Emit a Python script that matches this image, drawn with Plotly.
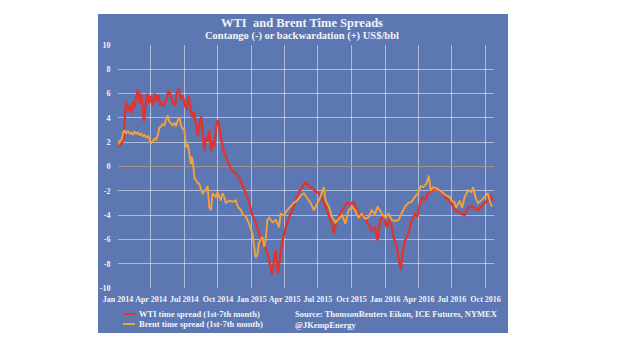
import pandas as pd
import plotly.graph_objects as go

# ---- data; day offsets are days since 2014-01-01 ----
wti_day = [0, 5, 10, 15, 19, 22, 27, 32, 36, 41, 45, 50, 55, 59, 63, 68, 71, 75, 80, 85,
           90, 95, 100, 105, 110, 116, 122, 127, 133, 139, 144, 150, 156, 160, 166, 172, 177, 183, 188, 193,
           198, 203, 208, 213, 218, 222, 227, 236, 240, 245, 249, 254, 258, 263, 268, 272, 276, 281, 285, 290,
           295, 304, 313, 322, 331, 340, 349, 358, 367, 376, 385, 394, 403, 412, 421, 430, 437, 444, 448, 458,
           467, 476, 485, 494, 503, 512, 521, 530, 539, 548, 557, 567, 576, 585, 589, 598, 607, 616, 625, 634,
           643, 652, 662, 671, 680, 689, 693, 702, 709, 716, 725, 734, 741, 748, 752, 761, 768, 772, 777, 784,
           793, 802, 811, 818, 825, 831, 838, 847, 856, 865, 874, 884, 893, 902, 911, 920, 929, 938, 947, 956,
           965, 974, 983, 992, 1001, 1010, 1015, 1019, 1022]
wti_val = [2.0, 1.7, 1.9, 2.2, 4.2, 5.4, 4.6, 5.0, 4.4, 5.3, 4.8, 5.8, 6.3, 5.2, 6.0, 4.8, 3.7, 5.0, 6.0, 5.2,
           5.8, 5.0, 6.0, 5.4, 5.9, 5.0, 5.2, 5.0, 5.6, 6.3, 5.8, 5.3, 5.0, 6.0, 6.4, 5.5, 5.8, 5.0, 4.7, 5.8,
           4.8, 4.0, 4.5, 3.5, 2.5, 3.5, 4.1, 1.3, 2.4, 2.1, 3.0, 1.3, 2.1, 1.6, 3.2, 3.8, 3.4, 2.4, 1.9, 1.1,
           0.8, 0.1, -0.4, -0.6, -0.9, -1.5, -2.2, -2.9, -4.0, -4.6, -5.5, -6.4, -6.6, -7.6, -8.9, -6.9, -8.8, -7.2, -6.3, -5.0,
           -4.2, -3.6, -2.8, -2.1, -1.7, -1.3, -1.6, -1.8, -1.96, -2.2, -2.6, -3.3, -4.1, -4.7, -5.5, -4.4, -3.9, -3.4, -3.0, -3.1,
           -2.9, -3.6, -4.1, -4.0, -4.6, -5.0, -5.3, -5.0, -6.1, -4.4, -4.1, -5.0, -4.4, -5.0, -5.8, -6.6, -8.0, -8.5, -7.2, -6.1,
           -5.5, -4.4, -3.9, -4.1, -3.0, -2.5, -2.8, -2.2, -2.0, -1.86, -1.9, -2.1, -2.5, -2.8, -3.0, -3.6, -3.7, -3.9, -4.0, -3.4,
           -3.3, -3.4, -3.6, -3.3, -3.0, -2.8, -2.5, -2.4, -2.8]

brent_day = [0, 5, 10, 14, 18, 22, 27, 32, 36, 41, 45, 50, 54, 59, 63, 68, 72, 77, 81, 86,
             90, 95, 100, 104, 109, 113, 118, 122, 127, 131, 136, 140, 145, 149, 154, 158, 163, 168, 172, 177,
             181, 186, 191, 195, 199, 201, 205, 209, 213, 218, 222, 227, 231, 240, 245, 249, 254, 258, 267, 272,
             276, 281, 285, 290, 295, 304, 313, 322, 327, 336, 340, 349, 358, 367, 372, 376, 381, 385, 394, 399,
             403, 408, 413, 422, 431, 440, 444, 453, 462, 471, 480, 489, 499, 508, 517, 526, 535, 544, 553, 562,
             567, 576, 585, 594, 603, 612, 621, 630, 639, 648, 657, 666, 675, 684, 693, 702, 709, 721, 730, 739,
             748, 757, 766, 775, 784, 793, 802, 811, 820, 827, 834, 843, 849, 854, 861, 870, 879, 888, 897, 906,
             911, 920, 924, 933, 940, 947, 956, 965, 970, 976, 983, 992, 1001, 1010, 1015, 1021]
brent_val = [1.8, 2.1, 2.2, 2.8, 3.0, 2.7, 2.9, 2.7, 2.8, 2.6, 2.9, 2.7, 2.8, 2.6, 2.7, 2.5, 2.6, 2.4, 2.5, 2.3,
             1.9, 2.1, 2.3, 2.2, 2.6, 3.2, 3.3, 3.5, 3.4, 3.8, 4.2, 3.7, 3.5, 3.4, 3.6, 3.3, 3.8, 4.0, 3.4, 3.1,
             3.0, 1.6, 1.8, 0.9, 0.2, 0.8, 0.3, -1.0, -1.1, -1.4, -1.4, -1.9, -2.2, -1.9, -1.6, -3.3, -3.6, -2.2, -2.5, -2.1,
             -2.5, -2.8, -2.2, -2.5, -3.0, -2.8, -2.9, -2.8, -3.3, -3.6, -3.9, -4.1, -4.7, -5.5, -6.6, -7.5, -7.2, -6.3, -5.8, -6.6,
             -6.1, -4.4, -4.2, -4.6, -4.4, -5.0, -3.9, -4.0, -3.6, -3.3, -3.0, -2.8, -2.4, -2.2, -2.6, -3.0, -3.6, -3.0, -2.5, -1.7,
             -2.8, -3.3, -4.2, -4.6, -4.3, -4.0, -4.7, -3.6, -3.3, -3.6, -4.2, -3.9, -4.3, -4.2, -3.6, -3.9, -3.3, -3.9, -4.2, -3.9,
             -4.4, -4.5, -4.4, -3.9, -3.3, -3.0, -2.9, -2.5, -2.2, -1.6, -1.7, -1.4, -0.74, -2.0, -1.7, -1.8, -1.96, -2.2, -2.4, -2.5,
             -2.8, -3.0, -3.4, -2.8, -3.4, -2.5, -1.96, -2.1, -1.7, -2.5, -3.0, -2.8, -2.5, -2.2, -2.8, -3.3]

x_tick_dates = ["2014-01-01", "2014-04-01", "2014-07-01", "2014-10-01", "2015-01-01", "2015-04-01",
                "2015-07-01", "2015-10-01", "2016-01-01", "2016-04-01", "2016-07-01", "2016-10-01"]
x_tick_labels = ["Jan 2014", "Apr 2014", "Jul 2014", "Oct 2014", "Jan 2015", "Apr 2015",
                 "Jul 2015", "Oct 2015", "Jan 2016", "Apr 2016", "Jul 2016", "Oct 2016"]
y_tick_vals = [10, 8, 6, 4, 2, 0, -2, -4, -6, -8, -10]
y_tick_labels = ["10", "8", "6", "4", "2", "0", "-2", "-4", "-6", "-8", "-10"]

wti_name = "WTI time spread (1st-7th month)"
brent_name = "Brent time spread (1st-7th month)"
title_text = "WTI  and Brent Time Spreads"
subtitle_text = "Contango (-) or backwardation (+) US$/bbl"
source_lines = ["Source: ThomsonReuters Eikon, ICE Futures, NYMEX", "@JKempEnergy"]

# ---- styling ----
BG = "#5d77b3"
RED = "#e0342e"
ORANGE = "#f2a23a"
TXT = "#f2f3f7"
FONT = "Liberation Serif"

base = pd.Timestamp("2014-01-01")
wti_dates = base + pd.to_timedelta(wti_day, unit="D")
brent_dates = base + pd.to_timedelta(brent_day, unit="D")

fig = go.Figure()
fig.add_trace(go.Scatter(x=wti_dates, y=wti_val, mode="lines", name=wti_name,
                         line=dict(color=RED, width=2.3), showlegend=False))
fig.add_trace(go.Scatter(x=brent_dates, y=brent_val, mode="lines", name=brent_name,
                         line=dict(color=ORANGE, width=1.9), showlegend=False))

# page has an 8px body margin: figure coordinates = page coordinates - 8
OFF = 8
W, H = 620 - OFF, 355 - OFF
PL, PR, PT, PB = 118, 494, 45, 288          # plot area in page pixels
L, R, T, B = PL - OFF, W - (PR - OFF), PT - OFF, H - (PB - OFF)
pw, ph = PR - PL, PB - PT


def px(xp):
    return (xp - PL) / pw


def py(yp):
    return (PB - yp) / ph


fig.update_layout(
    width=W, height=H,
    margin=dict(l=L, r=R, t=T, b=B, pad=0, autoexpand=False),
    paper_bgcolor="white",
    plot_bgcolor=BG,
    font=dict(family=FONT, color=TXT),
    shapes=[
        dict(type="rect", xref="paper", yref="paper", layer="below",
             x0=px(98), x1=px(508), y0=py(333), y1=py(14),
             fillcolor=BG, line=dict(width=0)),
        dict(type="line", xref="paper", yref="paper",
             x0=px(123), x1=px(135), y0=py(314), y1=py(314),
             line=dict(color=RED, width=2)),
        dict(type="line", xref="paper", yref="paper",
             x0=px(123), x1=px(135), y0=py(324), y1=py(324),
             line=dict(color=ORANGE, width=2)),
    ],
    annotations=[
        dict(text=title_text, xref="paper", yref="paper", x=px(302), y=py(23),
             showarrow=False, xanchor="center", yanchor="middle",
             font=dict(size=12.5, color=TXT, family=FONT, weight="bold")),
        dict(text=subtitle_text, xref="paper", yref="paper", x=px(302), y=py(36),
             showarrow=False, xanchor="center", yanchor="middle",
             font=dict(size=10.5, color=TXT, family=FONT, weight="bold")),
        dict(text=wti_name, xref="paper", yref="paper", x=px(137), y=py(314),
             showarrow=False, xanchor="left", yanchor="middle",
             font=dict(size=8.5, color=TXT, family=FONT, weight="bold")),
        dict(text=brent_name, xref="paper", yref="paper", x=px(137), y=py(324),
             showarrow=False, xanchor="left", yanchor="middle",
             font=dict(size=8.5, color=TXT, family=FONT, weight="bold")),
        dict(text=source_lines[0], xref="paper", yref="paper", x=px(293), y=py(314),
             showarrow=False, xanchor="left", yanchor="middle",
             font=dict(size=8.5, color=TXT, family=FONT, weight="bold")),
        dict(text=source_lines[1], xref="paper", yref="paper", x=px(293), y=py(325),
             showarrow=False, xanchor="left", yanchor="middle",
             font=dict(size=8.5, color=TXT, family=FONT, weight="bold")),
    ],
)

fig.update_xaxes(
    type="date", range=["2014-01-01", "2016-10-24"],
    tickvals=x_tick_dates, ticktext=x_tick_labels, tickangle=0, automargin=False,
    showgrid=True, gridcolor="rgba(255,255,255,0.5)", gridwidth=1,
    showline=False, zeroline=False, ticks="outside", ticklen=3, tickcolor="rgba(0,0,0,0)",
    tickfont=dict(size=8, color=TXT, family=FONT, weight="bold"),
)
fig.update_yaxes(
    range=[-10, 10], tickvals=y_tick_vals, ticktext=y_tick_labels, automargin=False,
    showgrid=True, gridcolor="rgba(255,255,255,0.5)", gridwidth=1,
    zeroline=True, zerolinecolor="#a3908a", zerolinewidth=1,
    showline=False, ticks="outside", ticklen=5, tickcolor="rgba(0,0,0,0)",
    tickfont=dict(size=8, color=TXT, family=FONT, weight="bold"),
)

fig.write_html("out.html")
